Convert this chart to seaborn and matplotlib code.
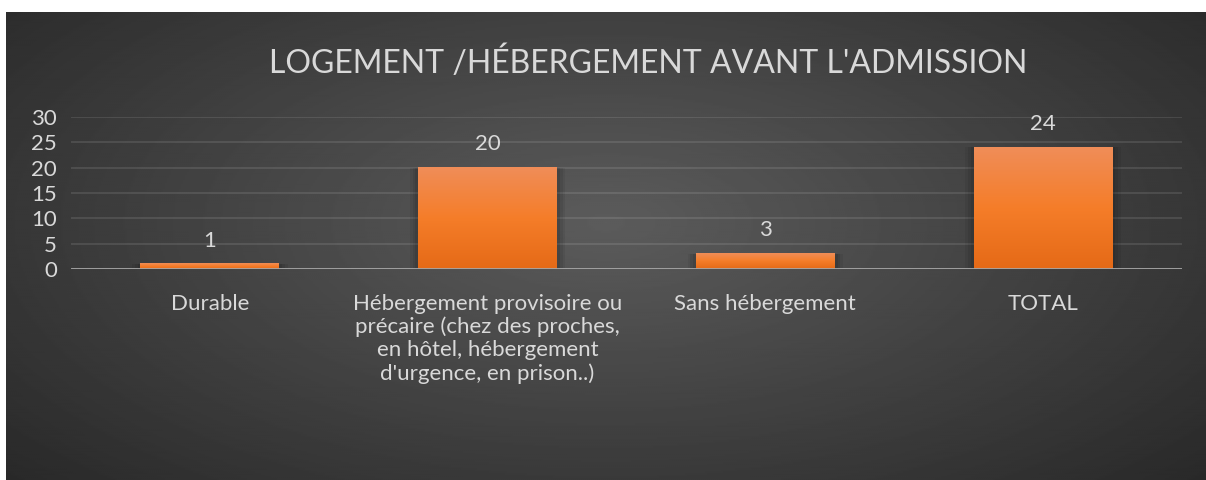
import numpy as np
import pandas as pd
import matplotlib.pyplot as plt
import seaborn as sns
from matplotlib.colors import LinearSegmentedColormap

# Chart data
categories = [
    "Durable",
    "Hébergement provisoire ou\nprécaire (chez des proches,\nen hôtel, hébergement\nd'urgence, en prison..)",
    "Sans hébergement",
    "TOTAL",
]
values = [1, 20, 3, 24]
title = "LOGEMENT /HÉBERGEMENT AVANT L'ADMISSION"

df = pd.DataFrame({"cat": categories, "val": values})

sns.set_style("dark")
plt.rcParams["font.family"] = ["Lato", "DejaVu Sans"]
txt = "#d9d9d9"

fig = plt.figure(figsize=(12.06, 4.8), dpi=100, facecolor="white")

# radial gradient background
bg = fig.add_axes([6 / 1206, 0, 1200 / 1206, 468 / 480])
yy, xx = np.mgrid[0:1:300j, 0:1:600j]
r = np.sqrt(((xx - 0.5) / 0.75) ** 2 + ((yy - 0.45) / 0.9) ** 2)
bg.imshow(0.36 - 0.22 * np.clip(r, 0, 1), cmap="gray", vmin=0, vmax=1,
          aspect="auto", extent=[0, 1, 0, 1], interpolation="bilinear")
bg.set_axis_off()

ax = fig.add_axes([71 / 1206, 211 / 480, 1111 / 1206, 152 / 480])
ax.patch.set_alpha(0)
sns.barplot(data=df, x="cat", y="val", color="#f47b28", width=0.5, ax=ax)

ax.set_ylim(0, 30)
ax.set_yticks(range(0, 31, 5))
ax.grid(axis="y", color="white", alpha=0.12, lw=1.2)
ax.grid(axis="x", visible=False)
ax.set_axisbelow(True)
for s in ax.spines.values():
    s.set_visible(False)
ax.axhline(0, color="#a6a6a6", lw=2, zorder=5)

# gradient fill for bars, with a soft shadow
grad = np.linspace(0, 1, 100).reshape(-1, 1)
cm = LinearSegmentedColormap.from_list("o", ["#e56a17", "#f57d29", "#f08d58"])
for p in list(ax.patches):
    x0, y0 = p.get_x(), p.get_y()
    w, h = p.get_width(), p.get_height()
    for k, a in [(0.03, 0.06), (0.02, 0.07), (0.01, 0.08)]:
        ax.bar(x0 + w / 2, h + k * 12, width=w + 2 * k, bottom=-k * 12,
               color="black", alpha=a, zorder=1, lw=0)
    p.set_alpha(0)
    ax.imshow(grad, cmap=cm, origin="lower", aspect="auto",
              extent=[x0, x0 + w, y0, y0 + h], zorder=2)
ax.set_xlim(-0.5, len(categories) - 0.5)

for i, v in enumerate(values):
    ax.text(i, v + 4.6, str(v), ha="center", va="center", color=txt, fontsize=16)

ax.set_xlabel("")
ax.set_ylabel("")
ax.tick_params(axis="both", length=0, colors=txt, labelsize=16)
ax.tick_params(axis="x", pad=18)
ax.tick_params(axis="y", pad=10)
for lbl in ax.get_xticklabels():
    lbl.set_linespacing(1.17)

fig.text(648 / 1206, 1 - 63 / 480, title, ha="center", va="center",
         color=txt, fontsize=23)

fig.savefig("out.png", dpi=100, facecolor="white")
